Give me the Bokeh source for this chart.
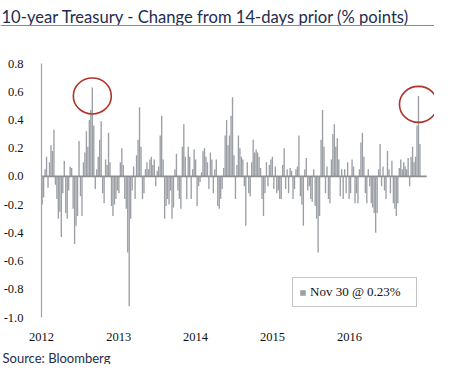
import numpy as np
import pandas as pd
from bokeh.plotting import figure
from bokeh.models import Range1d, FixedTicker, NumeralTickFormatter, Label, Span
from bokeh.embed import file_html
from bokeh.resources import INLINE

# ---- data (weekly readings of the 14-day change, % points) ----
values_2012_13 = [
    -0.20, -0.15, 0.05, 0.14, -0.08, 0.10, 0.22, 0.18, 0.33, -0.06,
    -0.16, -0.30, -0.25, -0.43, -0.12, 0.11, -0.26, -0.30, -0.10, 0.07,
    0.06, -0.23, -0.48, -0.35, -0.28, 0.25, -0.14, -0.28, 0.10, 0.17,
    0.32, 0.21, 0.40, 0.47, 0.63, 0.36, -0.09, 0.05, 0.14, 0.26,
    0.39, -0.12, -0.19, 0.12, 0.08, 0.31, 0.10, -0.21, -0.28, -0.20,
    -0.16, -0.10, -0.12, 0.10, 0.20, 0.08, -0.16, -0.23, -0.54, -0.92,
    -0.30, -0.10, 0.07, -0.16, 0.15, 0.26, 0.49, 0.21, -0.16, -0.12,
    0.05, 0.10, 0.05, 0.12, 0.14, 0.08, 0.12, -0.07, 0.04, 0.07,
    0.29, 0.43, 0.12, -0.30, -0.21, -0.16, -0.20, -0.10,
]
values_2013_15 = [
    -0.30, -0.22, 0.05, 0.16, -0.10, -0.16, -0.23, 0.21, 0.37, 0.14,
    -0.16, 0.21, 0.14, -0.16, 0.05, 0.19, 0.12, -0.21, -0.07, -0.04,
    0.03, 0.18, 0.20, 0.14, 0.10, -0.09, 0.17, 0.12, -0.12, 0.05,
    0.12, -0.21, -0.23, -0.16, -0.09, 0.06, 0.29, 0.40, 0.22, 0.29,
    0.43, 0.56, 0.15, -0.16, 0.08, 0.29, 0.20, 0.14, 0.12, -0.07,
    -0.35, 0.10, -0.12, -0.14, 0.10, 0.26, 0.17, 0.19, 0.17, 0.14,
    0.06, -0.16, -0.28, -0.12, 0.10, -0.07, 0.08, 0.12, 0.14, -0.09,
    0.07, -0.12, -0.10, -0.16, -0.16, 0.08, 0.20, -0.09, 0.05, -0.12,
    0.06, 0.04, -0.16, -0.09, 0.05, 0.07, 0.29,
]
values_2015_16 = [
    -0.14, -0.20, -0.35, 0.05, 0.13, -0.10, -0.07, -0.16, -0.18, 0.05,
    -0.21, -0.30, -0.54, -0.28, 0.26, 0.47, 0.21, -0.12, 0.07, -0.16,
    -0.19, 0.12, 0.30, 0.37, 0.21, 0.27, 0.12, -0.14, 0.05, -0.16,
    0.05, -0.12, 0.10, -0.16, -0.12, 0.12, 0.07, -0.19, -0.12, -0.19,
    0.05, 0.24, 0.31, 0.14, -0.12, -0.19, 0.05, -0.07, -0.19, -0.22,
    -0.26, -0.40, -0.26, 0.05, 0.23, -0.07, 0.07, -0.10, -0.16, 0.18,
    0.05, -0.12, 0.11, -0.19, -0.23, -0.28, -0.19, 0.06, 0.12, 0.05,
    0.10, 0.07, 0.05, 0.13, -0.07, 0.14, 0.21, 0.10, 0.14, 0.36,
    0.57, 0.23,
]
last_date = "2016-11-30"
year_labels = ["2012", "2013", "2014", "2015", "2016"]
y_tick_values = [-1.0, -0.8, -0.6, -0.4, -0.2, 0.0, 0.2, 0.4, 0.6, 0.8]
title_text = "10-year Treasury - Change from 14-days prior (% points)"
source_text = "Source: Bloomberg"

values = values_2012_13 + values_2013_15 + values_2015_16
dates = pd.date_range(end=last_date, periods=len(values), freq="7D")

BAR = "#9ca0a6"
NAVY = "#1e2d4d"
RED = "#b2332b"
SERIF = "Liberation Serif"
SANS = "Lato"
W = 434


def blank(height):
    f = figure(width=W, height=height, output_backend="svg", toolbar_location=None,
               x_range=Range1d(0, W), y_range=Range1d(0, height),
               x_axis_location=None, y_axis_location=None,
               min_border=0, min_border_left=0, min_border_right=0,
               min_border_top=0, min_border_bottom=0)
    f.outline_line_color = None
    f.grid.grid_line_color = None
    return f


# header: title with rule under it
head = blank(28)
head.add_layout(Label(x=1, y=12, text=title_text, text_font=SANS,
                      text_font_size="16.6px", text_color=NAVY,
                      text_baseline="alphabetic"))
head.add_layout(Span(location=3, dimension="width", line_color="#8a8a8a", line_width=1))

# main chart
x_start = pd.Timestamp(year_labels[0] + "-01-01")
x_axis_end = pd.Timestamp(str(int(year_labels[-1]) + 1) + "-01-01")

p = figure(width=W, height=316, x_axis_type="datetime",
           output_backend="svg", toolbar_location=None,
           x_range=Range1d(x_start, x_axis_end + pd.Timedelta(days=37)),
           y_range=Range1d(y_tick_values[0], y_tick_values[-1]),
           min_border_left=32, min_border_right=0,
           min_border_top=35, min_border_bottom=27)
p.outline_line_color = None
p.grid.grid_line_color = None

bars = p.vbar(x=dates, top=values, bottom=0, width=pd.Timedelta(days=6.5),
              fill_color=BAR, line_color=None,
              legend_label=f"{dates[-1]:%b} {dates[-1].day} @ {values[-1]:.2f}%")

p.segment(x0=[x_start], y0=[0], x1=[x_axis_end], y1=[0],
          line_color="#8f8f8f", line_width=1.6)

# highlighted peaks
i1 = int(np.argmax(values[:150]))
i2 = 200 + int(np.argmax(values[200:]))
p.ellipse(x=[dates[i1], dates[i2]], y=[values[i1] - 0.06, values[i2] - 0.06],
          width=38, height=36, width_units="screen", height_units="screen",
          fill_color=None, line_color=RED, line_width=1.6)

# axes
tick_ms = [pd.Timestamp(y + "-01-01").value // 10**6 for y in year_labels]
p.xaxis.ticker = FixedTicker(ticks=tick_ms)
p.xaxis.major_label_overrides = {t: y for t, y in zip(tick_ms, year_labels)}
p.xaxis.axis_line_color = None
p.xaxis.major_tick_line_color = None
p.xaxis.minor_tick_line_color = None
p.xaxis.major_label_standoff = 9
p.xaxis.major_label_text_font = SERIF
p.xaxis.major_label_text_font_size = "12.5px"
p.xaxis.major_label_text_color = "#111111"

p.yaxis.ticker = FixedTicker(ticks=y_tick_values)
p.yaxis.formatter = NumeralTickFormatter(format="0.0")
p.yaxis.axis_line_color = "#a3a3a3"
p.yaxis.axis_line_width = 1.2
p.yaxis.major_tick_line_color = None
p.yaxis.minor_tick_line_color = None
p.yaxis.major_label_standoff = 12
p.yaxis.major_label_text_font = SERIF
p.yaxis.major_label_text_font_size = "12.5px"
p.yaxis.major_label_text_color = "#111111"

# legend
lg = p.legend[0]
lg.location = (251, 10)
lg.padding = 6
lg.margin = 0
lg.glyph_width = 7
lg.glyph_height = 7
lg.label_height = 13
lg.label_width = 100
lg.label_standoff = 4
lg.label_text_font = SERIF
lg.label_text_font_size = "13px"
lg.label_text_color = "#111111"
lg.border_line_color = "#8c8c8c"
lg.border_line_width = 1
lg.background_fill_alpha = 1.0

# footer: source
foot = blank(20)
foot.add_layout(Label(x=2, y=7, text=source_text, text_font=SANS,
                      text_font_size="13px", text_color=NAVY,
                      text_baseline="alphabetic"))

open("out.html", "w").write(file_html([head, p, foot], INLINE))
